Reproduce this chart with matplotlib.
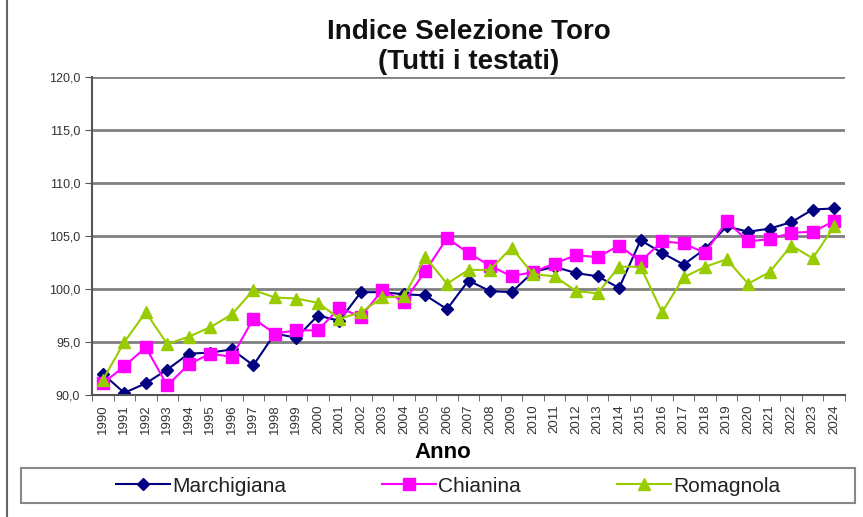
import numpy as np
import matplotlib
matplotlib.use("Agg")
import matplotlib.pyplot as plt
from matplotlib.lines import Line2D

plt.rcParams['font.family'] = ['Liberation Sans', 'DejaVu Sans']

years = [str(y) for y in range(1990, 2025)]

marchigiana = [92.0, 90.2, 91.1, 92.4, 93.9, 94.0, 94.3, 92.8, 95.8, 95.4, 97.5, 97.0,
               99.7, 99.7, 99.5, 99.4, 98.1, 100.8, 99.8, 99.7, 101.6, 102.1, 101.5, 101.2,
               100.1, 104.6, 103.4, 102.3, 103.8, 105.9, 105.4, 105.7, 106.3, 107.5, 107.6]
chianina = [91.1, 92.7, 94.5, 90.9, 92.9, 93.9, 93.6, 97.2, 95.8, 96.1, 96.1, 98.2,
            97.4, 99.9, 98.8, 101.7, 104.8, 103.4, 102.2, 101.2, 101.6, 102.4, 103.2, 103.0,
            104.1, 102.6, 104.5, 104.3, 103.4, 106.4, 104.5, 104.7, 105.3, 105.4, 106.4]
romagnola = [91.4, 95.0, 97.8, 94.8, 95.5, 96.4, 97.6, 99.9, 99.2, 99.1, 98.7, 97.2,
             97.8, 99.2, 99.3, 103.0, 100.5, 101.8, 101.8, 103.9, 101.4, 101.2, 99.8, 99.6,
             102.1, 102.1, 97.8, 101.1, 102.1, 102.8, 100.5, 101.6, 104.1, 102.9, 105.9]

fig = plt.figure(figsize=(8.63, 5.17), dpi=100)
ax = fig.add_axes([92 / 863, 122 / 517, 753 / 863, 318 / 517])

x = np.arange(len(years))
ax.plot(x, marchigiana, color='#000080', marker='D', markersize=6, lw=1.5, label='Marchigiana')
ax.plot(x, chianina, color='#FF00FF', marker='s', markersize=9, lw=1.5, label='Chianina')
ax.plot(x, romagnola, color='#99CC00', marker='^', markersize=9, lw=1.5, label='Romagnola')

ax.set_xlim(-0.5, len(years) - 0.5)
ax.set_ylim(90, 120)
yt = np.arange(90, 121, 5)
ax.set_yticks(yt)
ax.set_yticklabels([f"{v:.1f}".replace('.', ',') for v in yt], fontsize=9, color='#333333')
ax.yaxis.grid(True, color='#808080', lw=2)
ax.set_axisbelow(True)

ax.set_xticks(x)
ax.set_xticklabels(years, rotation=90, fontsize=9.5, color='#333333')
ax.set_xticks(np.arange(-0.5, len(years)), minor=True)
ax.tick_params(axis='x', which='major', length=0, pad=7)
ax.tick_params(axis='x', which='minor', length=4, color='#555555', direction='out')
ax.tick_params(axis='y', length=5, color='#555555')

for s in ['top', 'right']:
    ax.spines[s].set_visible(False)
for s in ['left', 'bottom']:
    ax.spines[s].set_color('#555555')
    ax.spines[s].set_linewidth(1.5)

ax.set_xlabel('Anno', fontsize=16, fontweight='bold')
ax.xaxis.set_label_coords(0.466, -0.148)

fig.text(0.543, 1 - 47 / 517, 'Indice Selezione Toro\n(Tutti i testati)', ha='center', va='center',
         fontsize=20, fontweight='bold', linespacing=1.2, color='#111111')

leg = fig.legend(loc='center', bbox_to_anchor=(448 / 863, 1 - 486 / 517), ncol=3,
                 fontsize=15, handlelength=2.6, handletextpad=0.1, columnspacing=4.6,
                 frameon=False)
for t in leg.get_texts():
    t.set_color('#222222')

# legend border box and left chart border
fig.add_artist(plt.Rectangle((21 / 863, 1 - 503 / 517), 834 / 863, 35 / 517,
                             transform=fig.transFigure, fill=False, edgecolor='#888888', lw=1.5))
fig.add_artist(Line2D([7 / 863, 7 / 863], [0, 1], transform=fig.transFigure, color='#666666', lw=1.5))

fig.savefig('out.png', dpi=100)
